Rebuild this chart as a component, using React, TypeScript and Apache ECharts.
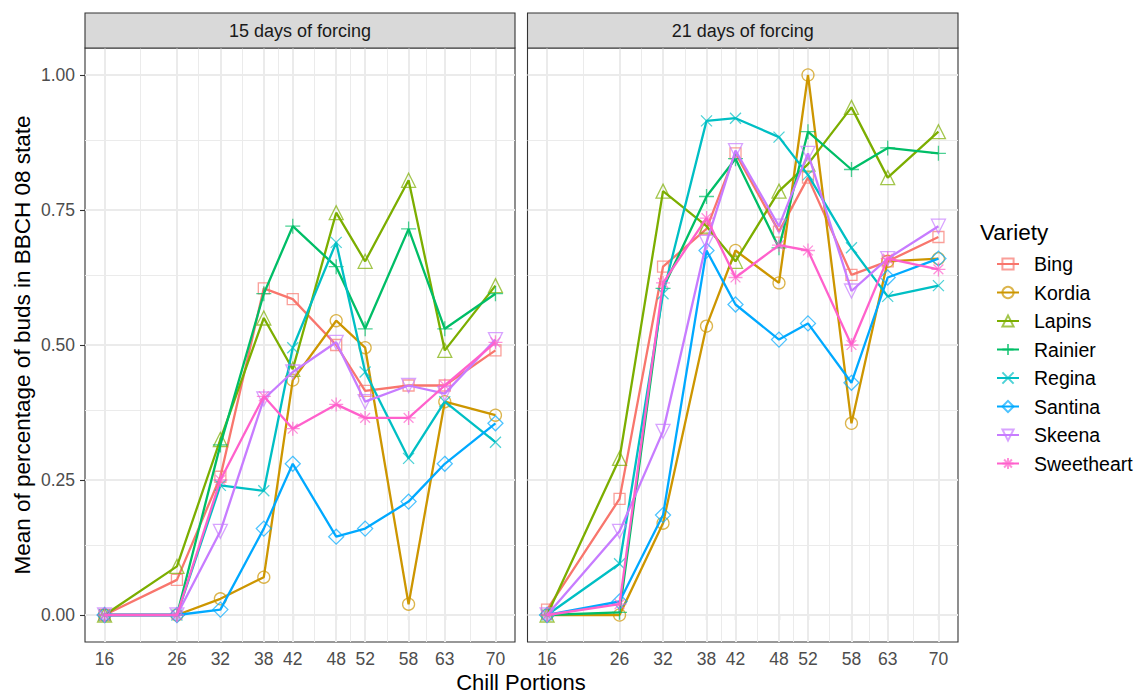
import React, { useEffect, useRef } from "react";
import * as echarts from "echarts";

const chill = [16, 26, 32, 38, 42, 48, 52, 58, 63, 70];
const xMinor = [21, 29, 35, 40, 45, 50, 55, 60.5, 66.5];
const yTicks = [0, 0.25, 0.5, 0.75, 1];
const yMinor = [0.125, 0.375, 0.625, 0.875];
const panels = ["15 days of forcing", "21 days of forcing"];
const varieties = ["Bing", "Kordia", "Lapins", "Rainier", "Regina", "Santina", "Skeena", "Sweetheart"];
const colors = ["#F8766D", "#CD9600", "#7CAE00", "#00BE67", "#00BFC4", "#00A9FF", "#C77CFF", "#FF61CC"];

const days15: number[][] = [
  [0, 0.065, 0.256, 0.605, 0.585, 0.5, 0.415, 0.425, 0.425, 0.49],
  [0, 0, 0.03, 0.07, 0.435, 0.545, 0.495, 0.02, 0.395, 0.37],
  [0, 0.09, 0.325, 0.55, 0.455, 0.745, 0.655, 0.805, 0.49, 0.61],
  [0, 0, 0.315, 0.595, 0.72, 0.645, 0.53, 0.715, 0.53, 0.595],
  [0, 0, 0.24, 0.23, 0.495, 0.69, 0.45, 0.29, 0.395, 0.32],
  [0, 0, 0.01, 0.16, 0.28, 0.145, 0.16, 0.21, 0.28, 0.355],
  [0, 0, 0.155, 0.4, 0.45, 0.505, 0.395, 0.425, 0.41, 0.51],
  [0, 0, 0.25, 0.405, 0.345, 0.39, 0.365, 0.365, 0.425, 0.505],
];
const days21: number[][] = [
  [0.01, 0.215, 0.645, 0.715, 0.855, 0.71, 0.81, 0.63, 0.655, 0.7],
  [0, 0, 0.17, 0.535, 0.675, 0.615, 1.0, 0.355, 0.655, 0.66],
  [0, 0.29, 0.785, 0.72, 0.655, 0.785, 0.835, 0.94, 0.81, 0.895],
  [0, 0.005, 0.605, 0.775, 0.845, 0.68, 0.895, 0.825, 0.865, 0.855],
  [0, 0.095, 0.595, 0.915, 0.92, 0.885, 0.815, 0.68, 0.59, 0.61],
  [0, 0.025, 0.185, 0.675, 0.575, 0.51, 0.54, 0.43, 0.625, 0.66],
  [0, 0.155, 0.34, 0.69, 0.86, 0.72, 0.855, 0.6, 0.66, 0.72],
  [0, 0.02, 0.615, 0.735, 0.625, 0.685, 0.675, 0.5, 0.66, 0.64],
];

const symbols = [
  "path://M0,0L10,0L10,10L0,10Z",
  "circle",
  "path://M5,0L10,8.66L0,8.66Z",
  "path://M5,0L5,10M0,5L10,5",
  "path://M0,0L10,10M10,0L0,10",
  "path://M5,0L10,5L5,10L0,5Z",
  "path://M0,0L10,0L5,8.66Z",
  "path://M5,0L5,10M0,5L10,5M1.5,1.5L8.5,8.5M8.5,1.5L1.5,8.5",
];
const symbolSizes = [11, 12, 14, 15, 11, 15, 14, 14];

const FONT = "'Liberation Sans', Arial, sans-serif";

export default function App() {
  const ref = useRef<HTMLDivElement>(null);
  useEffect(() => {
    if (!ref.current) return;
    const chart = echarts.init(ref.current, null, { renderer: "svg" });
    const gridsPos = [
      { left: 85, width: 430 },
      { left: 527.5, width: 430.5 },
    ];
    const top = 48;
    const height = 594;

    const series: any[] = [];
    [days15, days21].forEach((set, p) => {
      const mlData: any[] = [];
      chill.forEach((v) => mlData.push({ xAxis: v, lineStyle: { width: 2 } }));
      xMinor.forEach((v) => mlData.push({ xAxis: v, lineStyle: { width: 1 } }));
      yTicks.forEach((v) => mlData.push({ yAxis: v, lineStyle: { width: 2 } }));
      yMinor.forEach((v) => mlData.push({ yAxis: v, lineStyle: { width: 1 } }));
      series.push({
        type: "line",
        name: "__grid" + p,
        xAxisIndex: p,
        yAxisIndex: p,
        data: [],
        silent: true,
        markLine: {
          silent: true,
          z: 1,
          symbol: ["none", "none"],
          label: { show: false },
          emphasis: { disabled: true },
          lineStyle: { color: "#EBEBEB", type: "solid" },
          data: mlData,
        },
      });
      set.forEach((vals, i) => {
        series.push({
          type: "line",
          name: varieties[i],
          xAxisIndex: p,
          yAxisIndex: p,
          data: chill.map((x, j) => [x, vals[j]]),
          symbol: symbols[i],
          symbolSize: symbolSizes[i],
          showAllSymbol: true,
          z: 3 + i,
          lineStyle: { color: colors[i], width: 2.3 },
          itemStyle: {
            color: "rgba(255,255,255,0)",
            borderColor: colors[i],
            borderWidth: 1.3,
            opacity: 0.7,
          },
          emphasis: { disabled: true },
        });
      });
    });

    const graphic: any[] = [];
    gridsPos.forEach((g, p) => {
      graphic.push({
        type: "rect",
        shape: { x: g.left, y: 13, width: g.width, height: 35 },
        style: { fill: "#D9D9D9", stroke: "#333333", lineWidth: 1.1 },
        z: 10,
      });
      graphic.push({
        type: "text",
        x: g.left + g.width / 2,
        y: 30.5,
        style: {
          text: panels[p],
          fill: "#1A1A1A",
          font: `18px ${FONT}`,
          align: "center",
          verticalAlign: "middle",
        },
        z: 11,
      });
    });
    graphic.push({
      type: "text",
      x: 521,
      y: 682,
      style: {
        text: "Chill Portions",
        fill: "#000",
        font: `22px ${FONT}`,
        align: "center",
        verticalAlign: "middle",
      },
    });
    graphic.push({
      type: "text",
      x: 22,
      y: 345,
      rotation: Math.PI / 2,
      style: {
        text: "Mean of percentage of buds in BBCH 08 state",
        fill: "#000",
        font: `22.5px ${FONT}`,
        align: "center",
        verticalAlign: "middle",
      },
    });
    graphic.push({
      type: "text",
      x: 980,
      y: 232,
      style: {
        text: "Variety",
        fill: "#000",
        font: `22.5px ${FONT}`,
        align: "left",
        verticalAlign: "middle",
      },
    });

    const option: any = {
      animation: false,
      backgroundColor: "#fff",
      textStyle: { fontFamily: FONT },
      grid: gridsPos.map((g) => ({
        left: g.left,
        width: g.width,
        top,
        height,
        show: true,
        backgroundColor: "#fff",
        borderColor: "#333333",
        borderWidth: 1.1,
        containLabel: false,
      })),
      xAxis: [0, 1].map((p) => ({
        type: "value",
        gridIndex: p,
        min: 13.3,
        max: 72.7,
        axisLine: { show: false },
        splitLine: { show: false },
        axisTick: {
          show: true,
          customValues: chill,
          length: 5,
          lineStyle: { color: "#333333", width: 1.1 },
        },
        axisLabel: {
          customValues: chill,
          color: "#4D4D4D",
          fontSize: 17.5,
          fontFamily: FONT,
          margin: 8,
          formatter: (v: number) => String(v),
        },
      })),
      yAxis: [0, 1].map((p) => ({
        type: "value",
        gridIndex: p,
        min: -0.05,
        max: 1.05,
        axisLine: { show: false },
        splitLine: { show: false },
        axisTick: {
          show: p === 0,
          customValues: yTicks,
          length: 5,
          lineStyle: { color: "#333333", width: 1.1 },
        },
        axisLabel: {
          show: p === 0,
          customValues: yTicks,
          color: "#4D4D4D",
          fontSize: 17.5,
          fontFamily: FONT,
          margin: 10,
          formatter: (v: number) => v.toFixed(2),
        },
      })),
      legend: {
        data: varieties,
        orient: "vertical",
        left: 991,
        top: 249,
        itemWidth: 22,
        itemHeight: 14,
        itemGap: 8.5,
        selectedMode: false,
        textStyle: { fontSize: 19.5, color: "#000", fontFamily: FONT, padding: [0, 0, 0, 10] },
      },
      series,
      graphic,
    };
    chart.setOption(option);
    return () => chart.dispose();
  }, []);
  return (
    <div
      ref={ref}
      style={{ width: 1135, height: 693, position: "fixed", left: 0, top: 0 }}
    />
  );
}
